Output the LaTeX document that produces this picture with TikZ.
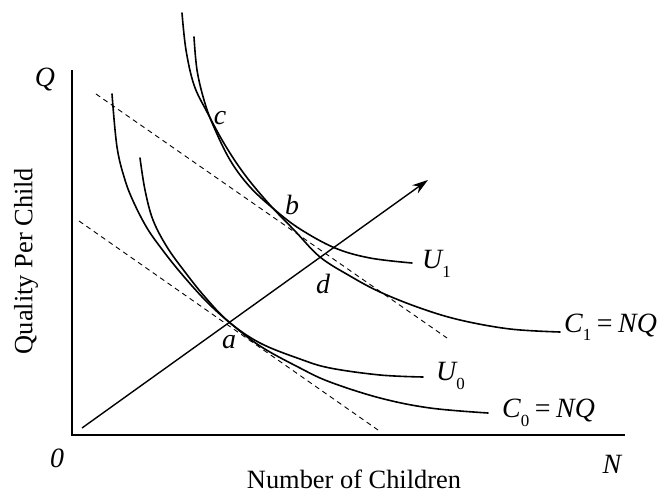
\documentclass[tikz,border=0pt]{standalone}
\usepackage{fontspec}
\setmainfont{Liberation Serif}
\usetikzlibrary{arrows.meta}
\newcommand{\lowsub}[1]{\raisebox{-0.3em}{\upshape\fontsize{17}{17}\selectfont #1}}
\begin{document}
\begin{tikzpicture}[x=1bp,y=-1bp,
  curve/.style={line width=1.6bp,line cap=round},
  axis/.style={line width=1.4bp},
  budget/.style={line width=0.9bp,dash pattern=on 5bp off 4bp},
  lbl/.style={inner sep=0pt,font=\fontsize{28}{32}\selectfont\itshape},
  txt/.style={inner sep=0pt,font=\fontsize{26.5}{30}\selectfont}]
\useasboundingbox (0,0) rectangle (662,495);
% axes
\coordinate (Qtop) at (72,70);
\coordinate (O) at (72,435);
\coordinate (Nend) at (625,435);
\draw[axis] (Qtop) -- (O) -- (Nend);
% budget lines (dashed)
\coordinate (b1s) at (96,94);
\coordinate (b1e) at (447,338);
\coordinate (b0s) at (79,221);
\coordinate (b0e) at (378,430);
\draw[budget] (b1s) -- (b1e);
\draw[budget] (b0s) -- (b0e);
% C1 curve
\draw[curve] plot[smooth,tension=0.6] coordinates {(182,13) (186,50) (194,85) (207,112) (225,145) (245,175) (270,205) (295,231) (320,257) (350,276) (380,292) (420,308) (460,320) (510,329) (560,332)};
% U1 curve
\draw[curve] plot[smooth,tension=0.6] coordinates {(194,37) (197,70) (204,100) (213,125) (230,160) (250,187) (275,210) (300,229) (335,248) (370,258) (412,263)};
% C0 curve
\draw[curve] plot[smooth,tension=0.6] coordinates {(112,94) (117,147) (125,180) (134,203) (147,228) (161,248) (180,272) (205,300) (229,322) (260,346) (300,368) (330,382) (380,398) (430,408) (488,413)};
% U0 curve
\draw[curve] plot[smooth,tension=0.6] coordinates {(140,158) (145,190) (153,220) (167,247) (185,272) (205,297) (229,322) (260,343) (300,359) (330,368) (380,375) (423,377)};
% ray
\coordinate (rs) at (82,428);
\coordinate (tip) at (428,180);
\draw[line width=1.4bp,-{Stealth[length=16bp,width=10bp]}] (rs) -- (tip);
% labels
\node[lbl] (lQ) at (45,80) {Q};
\node[lbl] (l0) at (57,458) {0};
\node[lbl] (lN) at (612,464) {N};
\node[txt,anchor=base] (lx) at (354,488) {Number of Children};
\node[txt,rotate=90] (ly) at (26,261) {Quality Per Child};
\node[lbl] (lc) at (220,118) {c};
\node[lbl] (lb) at (292,205) {b};
\node[lbl] (ld) at (323,284) {d};
\node[lbl] (la) at (229,342) {a};
\node[lbl,anchor=west] (lU1) at (422,264) {U\lowsub{1}};
\node[lbl,anchor=west] (lU0) at (436,376) {U\lowsub{0}};
\node[lbl,anchor=west] (lC1) at (564,327) {C\lowsub{1}\hspace{0.2em}{\upshape =}\hspace{0.2em}NQ};
\node[lbl,anchor=west] (lC0) at (502,413) {C\lowsub{0}\hspace{0.2em}{\upshape =}\hspace{0.2em}NQ};
\end{tikzpicture}
\end{document}
